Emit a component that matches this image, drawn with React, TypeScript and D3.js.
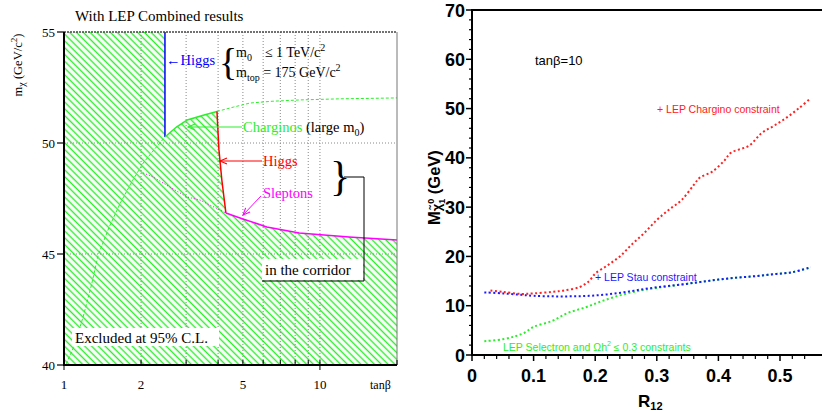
import React from 'react';
import * as d3 from 'd3';

// ---------- Left panel data ----------
const leftTitle = 'With LEP Combined results';
const leftYTicks = [40, 45, 50, 55];
const leftXLabels = [1, 2, 5, 10];
const leftXMinor = [2, 3, 4, 5, 6, 7, 8, 9, 20];
const leftGridX = [2, 3, 4, 5, 6, 7, 8, 9, 10];
const leftGridY = [45, 50];

const higgsBlue: number[][] = [[2.48, 55], [2.48, 50.27]];
const charginoSolid: number[][] = [[2.48, 50.27], [2.75, 50.72], [3.03, 51.04], [3.5, 51.25], [3.96, 51.42]];
const higgsRed: number[][] = [[3.96, 51.42], [4.03, 49.7], [4.14, 48.3], [4.29, 46.85]];
const sleptonSolid: number[][] = [[4.29, 46.85], [5.0, 46.58], [6.2, 46.22], [8.3, 45.95], [13, 45.77], [20, 45.63]];
const charginoDotted: number[][] = [[3.96, 51.42], [4.6, 51.62], [5.33, 51.8], [6.5, 51.88], [8.36, 51.94], [12, 51.99], [20, 52.03]];
const charginoLowDotted: number[][] = [[1.02, 40.05], [1.1, 40.9], [1.19, 42.2], [1.28, 43.6], [1.36, 44.95], [1.5, 46.2], [1.66, 47.3], [1.85, 48.3], [2.04, 49.1], [2.25, 49.7], [2.48, 50.27]];
const sleptonDotted: number[][] = [[2.04, 48.65], [2.23, 48.47], [2.52, 48.1], [3.02, 47.57], [3.4, 47.43], [3.8, 47.15], [4.29, 46.85]];

// ---------- Right panel data ----------
const rightYMajor = [0, 10, 20, 30, 40, 50, 60, 70];
const rightXMajor = [0, 0.1, 0.2, 0.3, 0.4, 0.5];
const rightXLabels = ['0', '0.1', '0.2', '0.3', '0.4', '0.5'];

const charginoR = [0.03, 0.05, 0.08, 0.10, 0.13, 0.15, 0.175, 0.19, 0.20, 0.22, 0.24, 0.26, 0.28, 0.30, 0.32, 0.34, 0.36, 0.37, 0.39, 0.41, 0.42, 0.45, 0.47, 0.49, 0.51, 0.53, 0.55];
const charginoM = [13.1, 12.8, 12.4, 12.5, 12.8, 13.1, 13.8, 15.0, 16.5, 18.2, 20.0, 22.5, 24.8, 27.4, 29.5, 31.4, 34.5, 36.0, 37.2, 39.5, 41.0, 42.5, 45.0, 46.5, 48.1, 50.0, 52.1];

const stauR = [0.02, 0.05, 0.08, 0.10, 0.13, 0.16, 0.19, 0.22, 0.25, 0.28, 0.31, 0.34, 0.37, 0.40, 0.43, 0.46, 0.49, 0.52, 0.55];
const stauM = [12.7, 12.5, 12.2, 12.0, 11.9, 11.9, 12.0, 12.3, 12.8, 13.4, 13.9, 14.3, 14.8, 15.3, 15.7, 16.0, 16.4, 16.8, 17.8];

const selectronR = [0.02, 0.05, 0.07, 0.085, 0.10, 0.13, 0.155, 0.185, 0.21, 0.24, 0.27, 0.30, 0.34, 0.37, 0.40, 0.43, 0.46, 0.49, 0.52, 0.55];
const selectronM = [2.8, 3.2, 3.8, 4.5, 5.7, 6.9, 8.5, 9.7, 10.9, 12.1, 13.0, 13.6, 14.3, 14.8, 15.3, 15.7, 16.0, 16.4, 16.8, 17.8];

const SERIF = "'Liberation Serif', 'DejaVu Serif', serif";
const SANS = "'Liberation Sans', Arial, sans-serif";
const GREEN = '#2aee2a';

export default function App() {
  // left scales
  const lx = d3.scaleLog().domain([1, 20]).range([64, 397]);
  const ly = d3.scaleLinear().domain([40, 55]).range([365, 32]);
  const lineL = d3.line<number[]>().x(d => lx(d[0])).y(d => ly(d[1]));

  const excluded: number[][] = [
    [1, 55], ...higgsBlue, ...charginoSolid.slice(1), ...higgsRed.slice(1),
    ...sleptonSolid.slice(1), [20, 40], [1, 40],
  ];

  // right scales
  const rx = d3.scaleLinear().domain([0, 350 / 616]).range([472, 822]);
  const ry = d3.scaleLinear().domain([0, 70]).range([355, 10]);
  const lineR = d3.line<[number, number]>().x(d => rx(d[0])).y(d => ry(d[1])).curve(d3.curveCatmullRom);
  const zip = (a: number[], b: number[]) => a.map((v, i) => [v, b[i]] as [number, number]);

  const yMinor = d3.range(0, 71, 2).filter(v => v % 10 !== 0);
  const xMinor = d3.range(0, 28).map(i => i * 0.02).filter((_, i) => i % 5 !== 0);

  return (
    <svg width={822} height={413} style={{ position: 'absolute', left: 0, top: 0, background: '#fff' }}>
      <defs>
        <pattern id="hatch" patternUnits="userSpaceOnUse" width={4.8} height={10} patternTransform="rotate(-45)">
          <line x1={2.4} y1={0} x2={2.4} y2={10} stroke={GREEN} strokeWidth={1.4} />
        </pattern>
        {[['arG', GREEN], ['arR', '#ff0000'], ['arM', '#ff00ff']].map(([id, c]) => (
          <marker key={id} id={id} markerUnits="userSpaceOnUse" markerWidth={10} markerHeight={10} orient="auto" refX={0} refY={0} viewBox="-10 -5 10 10" overflow="visible">
            <path d="M-7,-3 L0,0 L-7,3" fill="none" stroke={c} strokeWidth={1.1} />
          </marker>
        ))}
      </defs>

      {/* ===== Left panel ===== */}
      <text x={75} y={21} fontFamily={SERIF} fontSize={15}>{leftTitle}</text>

      <path d={lineL(excluded) + 'Z'} fill="url(#hatch)" stroke="none" />

      {/* grid */}
      {leftGridX.map(v => (
        <line key={'gx' + v} x1={lx(v)} x2={lx(v)} y1={32} y2={365} stroke="#888" strokeWidth={1} strokeDasharray="1,2" />
      ))}
      {leftGridY.map(v => (
        <line key={'gy' + v} x1={64} x2={397} y1={ly(v)} y2={ly(v)} stroke="#888" strokeWidth={1} strokeDasharray="1,2" />
      ))}

      {/* dotted curves */}
      <path d={lineL(charginoDotted)!} fill="none" stroke={GREEN} strokeWidth={1} strokeDasharray="3,2" />
      <path d={lineL(charginoLowDotted)!} fill="none" stroke={GREEN} strokeWidth={1} strokeDasharray="3,2" />
      <path d={lineL(sleptonDotted)!} fill="none" stroke="#ff00ff" strokeWidth={1} strokeDasharray="1,2" />

      {/* boundary */}
      <path d={lineL(higgsBlue)!} fill="none" stroke="#0000ff" strokeWidth={1.5} />
      <path d={lineL(charginoSolid)!} fill="none" stroke={GREEN} strokeWidth={1.5} />
      <path d={lineL(higgsRed)!} fill="none" stroke="#ff0000" strokeWidth={1.5} />
      <path d={lineL(sleptonSolid)!} fill="none" stroke="#ff00ff" strokeWidth={1.5} />

      {/* frame */}
      <line x1={64} x2={397} y1={32} y2={32} stroke="#444" strokeWidth={1.5} strokeDasharray="2,1" />
      <line x1={397} x2={397} y1={32} y2={365} stroke="#777" strokeWidth={1} />
      <line x1={64} x2={64} y1={32} y2={366} stroke="#000" strokeWidth={2} />
      <line x1={63} x2={397} y1={365} y2={365} stroke="#000" strokeWidth={2} />

      {/* left ticks */}
      {leftYTicks.map(v => (
        <g key={'ly' + v}>
          <line x1={57} x2={64} y1={ly(v)} y2={ly(v)} stroke="#000" strokeWidth={1.2} />
          <text x={55} y={ly(v) + 4.5} textAnchor="end" fontFamily={SERIF} fontSize={13}>{v}</text>
        </g>
      ))}
      {leftXMinor.map(v => (
        <line key={'lxm' + v} x1={lx(v)} x2={lx(v)} y1={365} y2={360} stroke="#000" strokeWidth={1} />
      ))}
      {[1, 10].map(v => (
        <line key={'lxM' + v} x1={lx(v)} x2={lx(v)} y1={360} y2={370} stroke="#000" strokeWidth={1} />
      ))}
      {leftXLabels.map(v => (
        <text key={'lxl' + v} x={lx(v)} y={389} textAnchor="middle" fontFamily={SERIF} fontSize={13}>{v}</text>
      ))}
      <text x={370} y={389} fontFamily={SERIF} fontSize={12}>tanβ</text>

      {/* left y label */}
      <text transform="translate(22,65) rotate(-90)" textAnchor="middle" fontFamily={SERIF} fontSize={12.5}>
        m<tspan fontSize={10} dy={3}>χ</tspan><tspan dy={-3}> (GeV/c</tspan><tspan fontSize={9} dy={-5}>2</tspan><tspan dy={5}>)</tspan>
      </text>

      {/* annotations */}
      <text x={166} y={65} fontFamily={SERIF} fontSize={14.5} fill="#0000ff">←Higgs</text>
      <text x={219} y={75} fontFamily={SERIF} fontSize={38}>{'{'}</text>
      <text x={236} y={57} fontFamily={SERIF} fontSize={14}>m<tspan fontSize={10} dy={4}>0</tspan><tspan dy={-4} dx={13}>≤ 1 TeV/c</tspan><tspan fontSize={10} dy={-6}>2</tspan></text>
      <text x={236} y={77} fontFamily={SERIF} fontSize={14}>m<tspan fontSize={10} dy={4}>top</tspan><tspan dy={-4}> = 175 GeV/c</tspan><tspan fontSize={10} dy={-6}>2</tspan></text>

      <line x1={242} y1={127} x2={188} y2={127} stroke={GREEN} strokeWidth={1.2} markerEnd="url(#arG)" />
      <text x={243} y={132} fontFamily={SERIF} fontSize={14.5}><tspan fill={GREEN}>Charginos</tspan> (large m<tspan fontSize={10} dy={4}>0</tspan><tspan dy={-4}>)</tspan></text>

      <line x1={262} y1={161} x2={220} y2={161} stroke="#ff0000" strokeWidth={1.2} markerEnd="url(#arR)" />
      <text x={263} y={166} fontFamily={SERIF} fontSize={14.5} fill="#ff0000">Higgs</text>

      <line x1={261} y1={196} x2={243} y2={215} stroke="#ff00ff" strokeWidth={1} markerEnd="url(#arM)" />
      <text x={263} y={198} fontFamily={SERIF} fontSize={14.5} fill="#ff00ff">Sleptons</text>

      <text x={330} y={190} fontFamily={SERIF} fontSize={42}>{'}'}</text>
      <polyline points="344,177 364,177 364,281 262,281" fill="none" stroke="#000" strokeWidth={1} />
      <rect x={262} y={259} width={101} height={21} fill="#fff" />
      <text x={265} y={275} fontFamily={SERIF} fontSize={15}>in the corridor</text>

      <rect x={72} y={328} width={147} height={18} fill="#fff" />
      <text x={75} y={343} fontFamily={SERIF} fontSize={15}>Excluded at 95% C.L.</text>

      {/* ===== Right panel ===== */}
      <line x1={471} x2={822} y1={10} y2={10} stroke="#000" strokeWidth={2} />
      <line x1={472} x2={472} y1={9} y2={356} stroke="#000" strokeWidth={2} />
      <line x1={471} x2={822} y1={355} y2={355} stroke="#000" strokeWidth={2} />

      {rightYMajor.map(v => (
        <g key={'ry' + v}>
          <line x1={466} x2={472} y1={ry(v)} y2={ry(v)} stroke="#000" strokeWidth={1.5} />
          <text x={465} y={ry(v) + 6.5} textAnchor="end" fontFamily={SANS} fontWeight="bold" fontSize={18}>{v}</text>
        </g>
      ))}
      {yMinor.map(v => (
        <line key={'rym' + v} x1={469} x2={472} y1={ry(v)} y2={ry(v)} stroke="#000" strokeWidth={1.2} />
      ))}
      {rightXMajor.map((v, i) => (
        <g key={'rx' + v}>
          <line x1={rx(v)} x2={rx(v)} y1={355} y2={361} stroke="#000" strokeWidth={1.5} />
          <text x={rx(v)} y={382} textAnchor="middle" fontFamily={SANS} fontWeight="bold" fontSize={18}>{rightXLabels[i]}</text>
        </g>
      ))}
      {xMinor.map(v => (
        <line key={'rxm' + v} x1={rx(v)} x2={rx(v)} y1={355} y2={359} stroke="#000" strokeWidth={1.2} />
      ))}

      <text x={638} y={407} fontFamily={SANS} fontWeight="bold" fontSize={17}>R<tspan fontSize={11} dy={3}>12</tspan></text>

      <text transform="translate(440,225) rotate(-90)" fontFamily={SANS} fontWeight="bold" fontSize={16.5}>
        M<tspan fontSize={13} dy={1}>χ̃</tspan><tspan fontSize={9} dy={4}>1</tspan><tspan fontSize={9} dx={-5} dy={-11}>0</tspan><tspan dy={6}> (GeV)</tspan>
      </text>

      <text x={535} y={65} fontFamily={SANS} fontSize={13}>tanβ=10</text>

      <path d={lineR(zip(selectronR, selectronM))!} fill="none" stroke={GREEN} strokeWidth={2} strokeDasharray="2,2.5" />
      <path d={lineR(zip(stauR, stauM))!} fill="none" stroke="#1a1aff" strokeWidth={2} strokeDasharray="2,2.5" />
      <path d={lineR(zip(charginoR, charginoM))!} fill="none" stroke="#ff2020" strokeWidth={2} strokeDasharray="2,2.5" />

      <text x={657} y={113} fontFamily={SANS} fontSize={10.5} fill="#ff2020">+ LEP Chargino constraint</text>
      <text x={595} y={281} fontFamily={SANS} fontSize={10.5} fill="#1a1aff">+ LEP Stau constraint</text>
      <text x={503} y={351} fontFamily={SANS} fontSize={10.5} fill={GREEN}>LEP Selectron and Ωh<tspan fontSize={7} dy={-5}>2</tspan><tspan dy={5}>  ≤  0.3 constraints</tspan></text>
    </svg>
  );
}
